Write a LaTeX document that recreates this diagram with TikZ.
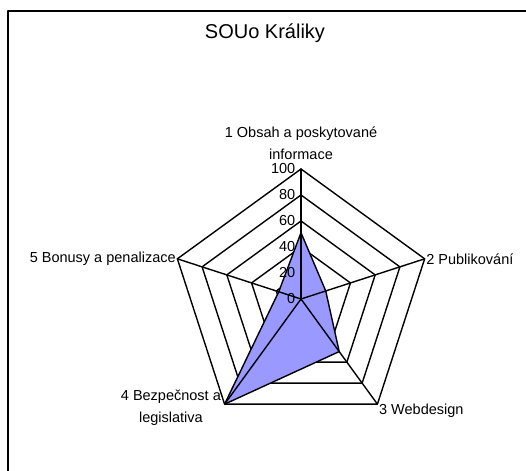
\documentclass[tikz,border=0pt]{standalone}
\usepackage{fontspec}
\setmainfont{Liberation Sans}
\usetikzlibrary{calc}
\definecolor{serie}{HTML}{9999FF}
\begin{document}
\begin{tikzpicture}[x=1pt, y=1pt, line join=round, line cap=round,
	lab/.style={font=\fontsize{14.5}{22}\selectfont, inner sep=1pt},
	tick/.style={font=\fontsize{14.5}{15}\selectfont, inner sep=1pt, anchor=east}]
	\def\cx{301} \def\cy{171} \def\R{130} % stred a polomer
	\useasboundingbox (0,0) rectangle (526,470);
	\draw[line width=1.8pt] (8,-2)--(8,459)--(528,459);
	\node (title) at (265,437) {\fontsize{20}{22}\selectfont SOUo Králiky};
	\begin{scope}[shift={(\cx,\cy)}, line width=1.4pt]
		% mrizka
		\foreach \r in {0.2,0.4,...,1.0}
			\draw (90:\r*\R)--(18:\r*\R)--(-54:\r*\R)--(-126:\r*\R)--(162:\r*\R)--cycle;
		% data
		\filldraw[fill=serie] (90:0.51*\R)--(18:0.20*\R)--(-54:0.50*\R)--(-126:\R)--(162:0.18*\R)--cycle;
		\foreach \a in {90,18,-54,-126,162}
			\draw (0,0)--(\a:\R);
		\foreach \v in {0,20,...,100}
			\node[tick] (t\v) at (-4,\v*\R/100) {\v};
		\node[lab, align=center, anchor=south] (lab1) at (0,\R+8) {1 Obsah a poskytované\\informace};
		\node[lab, anchor=west] (lab2) at (18:\R) {2 Publikování};
		\node[lab, anchor=north west] (lab3) at ($(-54:\R)+(0,2)$) {3 Webdesign};
		\node[lab, align=center, anchor=east] (lab4) at ($(-126:\R)+(-2,-4)$) {4 Bezpečnost a\\legislativa};
		\node[lab, anchor=east] (lab5) at (162:\R) {5 Bonusy a penalizace};
	\end{scope}
\end{tikzpicture}
\end{document}
